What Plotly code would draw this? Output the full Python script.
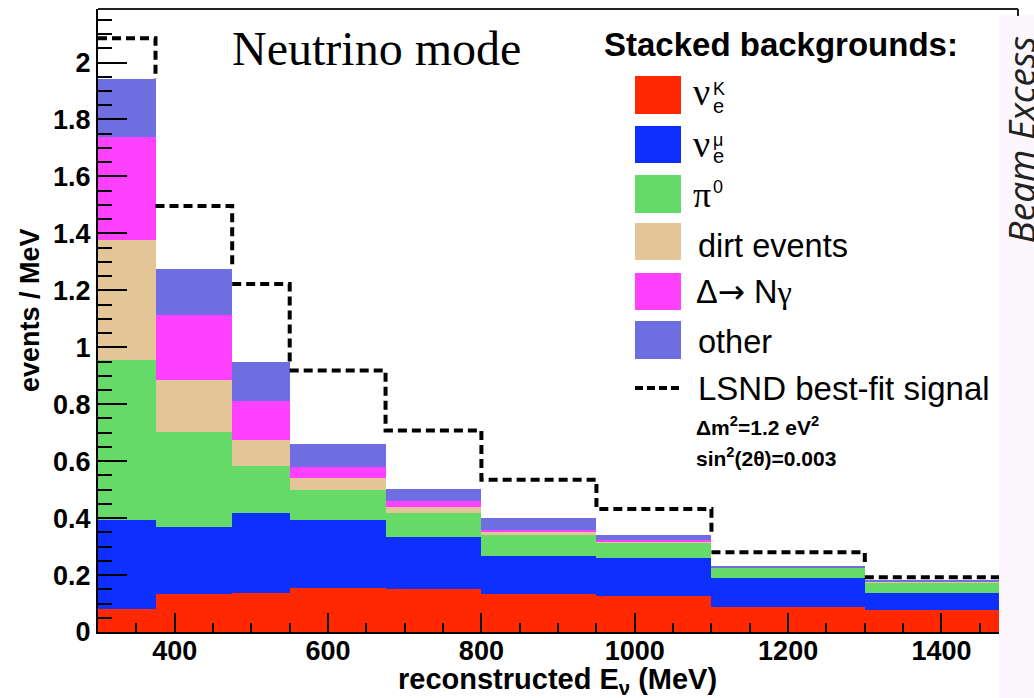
import plotly.graph_objects as go

# Reconstructed neutrino energy bins (MeV)
bin_edges = [300, 375, 475, 550, 675, 800, 950, 1100, 1300, 1500]

# Stacked background contributions, events / MeV (bottom to top)
nue_kaon = [0.081, 0.132, 0.138, 0.153, 0.152, 0.132, 0.128, 0.087, 0.077]
nue_muon = [0.311, 0.237, 0.280, 0.239, 0.182, 0.134, 0.132, 0.102, 0.061]
pi0 = [0.564, 0.332, 0.164, 0.105, 0.084, 0.076, 0.055, 0.036, 0.037]
dirt = [0.421, 0.183, 0.093, 0.044, 0.021, 0.011, 0.004, 0.002, 0.002]
delta_ngamma = [0.363, 0.230, 0.137, 0.037, 0.021, 0.006, 0.003, 0.001, 0.001]
other = [0.202, 0.160, 0.138, 0.083, 0.043, 0.040, 0.020, 0.002, 0.002]

# Background + LSND best-fit signal (dashed outline)
lsnd_total = [2.085, 1.496, 1.222, 0.918, 0.708, 0.535, 0.432, 0.280, 0.192]

components = [
    ("nue_kaon", nue_kaon, "#FF2800"),
    ("nue_muon", nue_muon, "#0D30FF"),
    ("pi0", pi0, "#66DA68"),
    ("dirt", dirt, "#E3C597"),
    ("delta_ngamma", delta_ngamma, "#FF40FF"),
    ("other", other, "#6E6EE0"),
]

centers = [(a + b) / 2 for a, b in zip(bin_edges[:-1], bin_edges[1:])]
widths = [b - a for a, b in zip(bin_edges[:-1], bin_edges[1:])]
n_bins = len(centers)

fig = go.Figure()
for name, vals, color in components:
    fig.add_trace(go.Bar(
        x=centers, y=vals, width=widths, name=name,
        marker=dict(color=color, line=dict(width=0)),
        showlegend=False, hoverinfo="skip",
    ))

# Top of the stacked backgrounds in each bin
stack_top = [sum(c[1][i] for c in components) for i in range(n_bins)]

# Histogram outline for the LSND signal; vertical steps stop where the
# stacked histogram on the left would hide them.
sx, sy = [], []
for i in range(n_bins):
    if not sx or sx[-1] is None:
        sx.append(bin_edges[i]); sy.append(lsnd_total[i])
    sx.append(bin_edges[i + 1]); sy.append(lsnd_total[i])
    if i < n_bins - 1:
        low = max(stack_top[i], lsnd_total[i + 1])
        sx.append(bin_edges[i + 1]); sy.append(low)
        if low > lsnd_total[i + 1]:
            sx.append(None); sy.append(None)
fig.add_trace(go.Scatter(
    x=sx, y=sy, mode="lines", connectgaps=False,
    line=dict(color="black", width=4, dash="9px,5px"),
    showlegend=False, hoverinfo="skip",
))

# Plot-area geometry in pixels
W, H = 1034, 698
PL, PT, PR, PB = 98, 9, 35, 66
PW, PH = W - PL - PR, H - PT - PB


def fx(px):
    return (px - PL) / PW


def fy(py):
    return 1 - (py - PT) / PH


SANS = "Liberation Sans"
SERIF = "Liberation Serif"

annotations = []
shapes = []


def text(px, py, s, size, family=SANS, weight="normal", xanchor="left",
         yanchor="middle", angle=0, style="normal", color="black"):
    annotations.append(dict(
        x=fx(px), y=fy(py), xref="paper", yref="paper", text=s,
        showarrow=False, xanchor=xanchor, yanchor=yanchor, textangle=angle,
        borderpad=0,
        font=dict(family=family, size=size, weight=weight, style=style, color=color),
    ))


# Panel title and axis titles
text(231, 49, "Neutrino mode", 48, family=SERIF)
text(30, 310, "events / MeV", 27, weight="bold", xanchor="center", angle=-90)
text(557, 681, "reconstructed E<sub>ν</sub> (MeV)", 29, weight="bold", xanchor="center")

# Legend block
text(603, 44, "Stacked backgrounds:", 33, weight="bold")
swatch_rows = [(76, 114), (126, 163), (175, 213), (223, 260), (273, 310), (321, 359)]
for (y0, y1), (_, _, color) in zip(swatch_rows, components):
    shapes.append(dict(type="rect", xref="paper", yref="paper",
                       x0=fx(635), x1=fx(681), y0=fy(y1), y1=fy(y0),
                       fillcolor=color, line=dict(width=0), layer="above"))

text(692, 92, "ν", 38, family=SERIF)
text(712, 89, "K", 18)
text(712, 106, "e", 20)
text(692, 144, "ν", 38, family=SERIF)
text(712, 140, "μ", 18)
text(712, 156, "e", 20)
text(692, 195, "π", 36, family=SERIF)
text(712, 187, "0", 18)
text(697, 246, "dirt events", 32.5)
text(695, 292, "Δ<span style='font-family:DejaVu Sans'>→</span> N<span style='font-family:Liberation Serif'>γ</span>", 32.5)
text(697, 342, "other", 32.5)
shapes.append(dict(type="line", xref="paper", yref="paper",
                   x0=fx(635), x1=fx(681), y0=fy(388), y1=fy(388),
                   line=dict(color="black", width=4, dash="8px,4px"), layer="above"))
text(697, 388, "LSND best-fit signal", 33)
text(695, 426, "Δm<sup>2</sup>=1.2 eV<sup>2</sup>", 21, weight="bold")
text(695, 457, "sin<sup>2</sup>(2θ)=0.003", 21, weight="bold")

# Neighbouring panel strip on the right
shapes.append(dict(type="rect", xref="paper", yref="paper",
                   x0=fx(999), x1=fx(W + 5), y0=fy(H + 5), y1=fy(15),
                   fillcolor="#FCF7FC", line=dict(width=0), layer="above"))
text(1020, 245, "Beam Excess", 37, family="Open Sans", style="italic",
     xanchor="center", yanchor="bottom", angle=-90, color="#222222")

# Top frame line
shapes.append(dict(type="line", xref="paper", yref="paper",
                   x0=fx(PL), x1=fx(1018), y0=1, y1=1,
                   line=dict(color="#222222", width=2), layer="above"))
shapes.append(dict(type="line", xref="paper", yref="paper",
                   x0=fx(1018), x1=fx(1018), y0=1, y1=fy(16),
                   line=dict(color="#222222", width=2), layer="above"))

tickfont = dict(family=SANS, size=27, weight="bold", color="black")

fig.update_layout(
    width=W, height=H,
    margin=dict(l=PL, r=PR, t=PT, b=PB, pad=0),
    paper_bgcolor="white", plot_bgcolor="white",
    barmode="stack", bargap=0,
    showlegend=False,
    annotations=annotations, shapes=shapes,
    xaxis=dict(
        range=[300, 1475], tick0=0, dtick=200, tickformat="d",
        ticks="inside", ticklen=19, tickwidth=2, tickcolor="black",
        ticklabelstandoff=-6,
        minor=dict(dtick=50, ticks="inside", ticklen=9, tickwidth=2, tickcolor="black"),
        showline=True, linecolor="black", linewidth=2,
        showgrid=False, zeroline=False, tickfont=tickfont,
    ),
    yaxis=dict(
        range=[0, 2.188], tick0=0, dtick=0.2,
        ticks="inside", ticklen=29, tickwidth=2, tickcolor="black",
        minor=dict(dtick=0.05, ticks="inside", ticklen=14, tickwidth=2, tickcolor="black"),
        showline=True, linecolor="black", linewidth=2,
        showgrid=False, zeroline=False, tickfont=tickfont,
    ),
)

fig.write_html("out.html")
